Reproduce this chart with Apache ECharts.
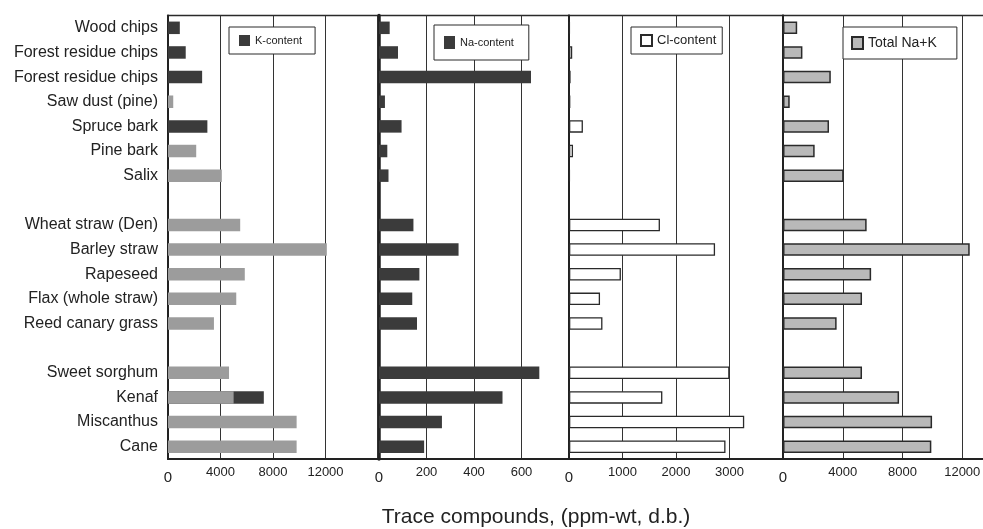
<!DOCTYPE html>
<html>
<head>
<meta charset="utf-8">
<script src="https://cdn.jsdelivr.net/npm/echarts@6/dist/echarts.min.js"></script>
<style>html,body{margin:0;padding:0;background:#fff;}#c{width:983px;height:529px;}</style>
</head>
<body>
<div id="c"></div>
<script>
const categories = ['Wood chips','Forest residue chips','Forest residue chips','Saw dust (pine)','Spruce bark','Pine bark','Salix','','Wheat straw (Den)','Barley straw','Rapeseed','Flax (whole straw)','Reed canary grass','','Sweet sorghum','Kenaf','Miscanthus','Cane'];
const kDark  = [900,1350,2600,null,3000,null,null,null,null,null,null,null,null,null,null,7300,null,null];
const kGray  = [null,null,null,400,null,2150,4100,null,5500,12100,5850,5200,3500,null,4650,5000,9800,9800];
const naVals = [45,80,640,25,95,35,40,null,145,335,170,140,160,null,675,520,265,190];
const clVals = [15,60,30,25,260,75,15,null,1700,2730,970,580,625,null,3000,1745,3275,2925];
const totalVals = [950,1300,3200,450,3080,2120,4060,null,5600,12500,5900,5290,3590,null,5290,7770,9980,9930];
const axisMax = [16000, 800, 4000, 16000];
const axisStep = [4000, 200, 1000, 4000];
const seriesNames = ['K-content','Na-content','Cl-content','Total Na+K'];
const xTitle = 'Trace compounds, (ppm-wt, d.b.)';

const FONT = '"Liberation Sans", Arial, sans-serif';
const gridPos = [
  {left:168, width:210},
  {left:379, width:190},
  {left:569, width:214},
  {left:783, width:239}
];
const grids = gridPos.map(g => ({left:g.left, width:g.width, top:15.5, height:443.5, show:true, outerBoundsMode:'none', containLabel:false, borderColor:'#2a2a2a', borderWidth:1.5, backgroundColor:'transparent'}));
const xAxes = axisMax.map((m,i) => ({
  type:'value', gridIndex:i, min:0, max:m, interval:axisStep[i],
  axisLine:{show:true, lineStyle:{color:'#222', width:2}},
  axisTick:{show:false},
  splitLine:{show:true, lineStyle:{color:'#333', width:1}},
  axisLabel:{show:true, showMaxLabel:false, margin:7, color:'#222', fontSize:13, fontFamily:FONT,
    formatter: v => v === 0 ? '{z|0}' : String(v), rich:{z:{fontSize:15, padding:[4,0,0,0], color:'#222', fontFamily:FONT}}}
}));
const yAxes = axisMax.map((m,i) => ({
  type:'category', gridIndex:i, data:categories, inverse:true,
  axisLine:{show:true, lineStyle:{color:'#222', width: i===1 ? 3.5 : 2}},
  axisTick:{show:false},
  axisLabel:{show: i===0, color:'#222', fontSize:16, margin:10, fontFamily:FONT}
}));
const BW = 12.5;
const series = [
  {name:'K-content', type:'bar', xAxisIndex:0, yAxisIndex:0, data:kDark, barWidth:BW, barGap:'-100%',
   itemStyle:{color:'#3b3b3b'}},
  {name:'K-gray', type:'bar', xAxisIndex:0, yAxisIndex:0, data:kGray, barWidth:BW, barGap:'-100%',
   itemStyle:{color:'#9c9c9c'}},
  {name:'Na-content', type:'bar', xAxisIndex:1, yAxisIndex:1, data:naVals, barWidth:BW,
   itemStyle:{color:'#3b3b3b'}},
  {name:'Cl-content', type:'bar', xAxisIndex:2, yAxisIndex:2, data:clVals, barWidth:BW,
   itemStyle:{color:'#ffffff', borderColor:'#2a2a2a', borderWidth:1.3}},
  {name:'Total Na+K', type:'bar', xAxisIndex:3, yAxisIndex:3, data:totalVals, barWidth:BW,
   itemStyle:{color:'#b9b9b9', borderColor:'#2a2a2a', borderWidth:1.5}}
];
const legendBase = {orient:'horizontal', backgroundColor:'#fff', borderColor:'#2a2a2a', borderWidth:1, itemGap:0, selectedMode:false, icon:'rect', z:10};
const legends = [
  Object.assign({}, legendBase, {data:[seriesNames[0]], left:229, top:27, padding:[8,13,8,10], itemWidth:11, itemHeight:11, textStyle:{fontSize:11, color:'#222', fontFamily:FONT}}),
  Object.assign({}, legendBase, {data:[seriesNames[1]], left:434, top:25, padding:[11,15,11,10], itemWidth:11, itemHeight:13, textStyle:{fontSize:11, color:'#222', fontFamily:FONT}}),
  Object.assign({}, legendBase, {data:[seriesNames[2]], left:631, top:27, padding:[7,6,7,9], itemWidth:11, itemHeight:11, textStyle:{fontSize:13, color:'#222', fontFamily:FONT}}),
  Object.assign({}, legendBase, {data:[seriesNames[3]], left:843, top:27, padding:[9,20,9,8], itemWidth:11, itemHeight:12, textStyle:{fontSize:14, color:'#222', fontFamily:FONT}})
];
const chart = echarts.init(document.getElementById('c'), null, {renderer:'canvas'});
chart.setOption({
  animation:false,
  backgroundColor:'#fff',
  textStyle:{fontFamily:FONT},
  title:{text:xTitle, left:531, textAlign:'center', top:502, textStyle:{fontSize:21, fontWeight:'normal', color:'#222', fontFamily:FONT}},
  grid:grids, xAxis:xAxes, yAxis:yAxes, legend:legends, series:series
});
</script>
</body>
</html>
